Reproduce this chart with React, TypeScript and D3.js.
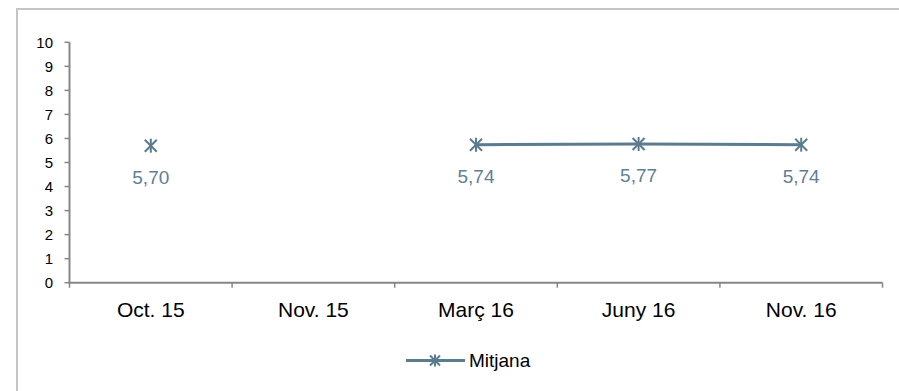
import React from "react";
import * as d3 from "d3";

const categories = ["Oct. 15", "Nov. 15", "Març 16", "Juny 16", "Nov. 16"];
const values: (number | null)[] = [5.7, null, 5.74, 5.77, 5.74];
const yTicks = [0, 1, 2, 3, 4, 5, 6, 7, 8, 9, 10];
const seriesName = "Mitjana";

const W = 899;
const H = 391;
const left = 69.5;
const right = 882.5;
const top = 42.3;
const bottom = 282.7;
const color = "#5b7b8f";
const axisColor = "#868686";
const font = "'Liberation Sans', Arial, sans-serif";

function Marker({ x, y, s = 6 }: { x: number; y: number; s?: number }) {
  return (
    <g stroke={color} strokeWidth={2}>
      <line x1={x - s} y1={y - s} x2={x + s} y2={y + s} />
      <line x1={x - s} y1={y + s} x2={x + s} y2={y - s} />
      <line x1={x} y1={y - s - 1} x2={x} y2={y + s + 1} />
    </g>
  );
}

export default function App() {
  const x = d3.scaleBand<string>().domain(categories).range([left, right]);
  const y = d3.scaleLinear().domain([0, 10]).range([bottom, top]);
  const pts = categories.map((c, i) => ({ c, v: values[i] }));
  const line = d3
    .line<{ c: string; v: number | null }>()
    .defined((d) => d.v !== null)
    .x((d) => (x(d.c) as number) + x.bandwidth() / 2)
    .y((d) => y(d.v as number));
  const boundaries = [...categories.map((c) => x(c) as number), right];

  return (
    <svg
      width={W}
      height={H}
      style={{ position: "absolute", left: 0, top: 0, background: "#fff" }}
      fontFamily={font}
    >
      <rect x={0} y={0} width={W} height={H} fill="#fff" />
      <rect x={17} y={9} width={W + 20} height={H + 20} fill="none" stroke="#c4c4c4" strokeWidth={2} />
      {/* y axis */}
      <line x1={left} y1={top} x2={left} y2={bottom} stroke={axisColor} strokeWidth={2} />
      {yTicks.map((t) => (
        <g key={t}>
          <line x1={left - 5} y1={y(t)} x2={left} y2={y(t)} stroke={axisColor} strokeWidth={1.5} />
          <text x={53} y={y(t)} dy="0.35em" textAnchor="end" fontSize={15} fill="#000">
            {t}
          </text>
        </g>
      ))}
      {/* x axis */}
      <line x1={left - 1} y1={bottom} x2={right} y2={bottom} stroke={axisColor} strokeWidth={2} />
      {boundaries.map((b, i) => (
        <line key={i} x1={b} y1={bottom} x2={b} y2={bottom + 5} stroke={axisColor} strokeWidth={1.5} />
      ))}
      {categories.map((c) => (
        <text
          key={c}
          x={(x(c) as number) + x.bandwidth() / 2}
          y={317}
          textAnchor="middle"
          fontSize={21}
          fill="#000"
        >
          {c}
        </text>
      ))}
      {/* series */}
      <path d={line(pts) || ""} fill="none" stroke={color} strokeWidth={3} />
      {pts.map((d) =>
        d.v === null ? null : (
          <g key={d.c}>
            <Marker x={(x(d.c) as number) + x.bandwidth() / 2} y={y(d.v)} />
            <text
              x={(x(d.c) as number) + x.bandwidth() / 2}
              y={y(d.v) + 38.5}
              textAnchor="middle"
              fontSize={19}
              fill="#5f7f93"
            >
              {d.v.toFixed(2).replace(".", ",")}
            </text>
          </g>
        )
      )}
      {/* legend */}
      <line x1={406} y1={360.5} x2={465} y2={360.5} stroke={color} strokeWidth={3} />
      <Marker x={435} y={360.5} s={5} />
      <text x={469} y={360.5} dy="0.35em" fontSize={19} fill="#000">
        {seriesName}
      </text>
    </svg>
  );
}
